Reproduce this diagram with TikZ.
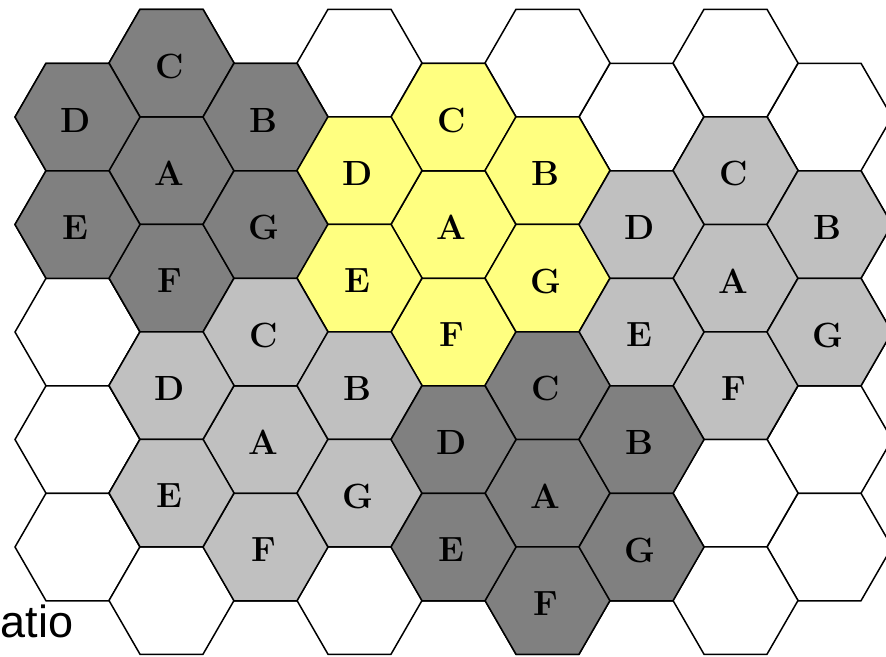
\documentclass[tikz,border=0pt]{standalone}
\usepackage{fontspec}
\newfontfamily\captionfont{Liberation Sans}
\definecolor{darkcell}{HTML}{808080}
\definecolor{lightcell}{HTML}{C0C0C0}
\definecolor{yellowcell}{HTML}{FFFF80}
\tikzset{
  hexline/.style={draw=black, line width=1.5pt, line join=miter},
  lbl/.style={font=\fontsize{35}{35}\selectfont\bfseries, inner sep=0pt},
}
\newcommand{\hexcell}[3]{%
  \draw[hexline, fill=#3] (#1-62.5,#2) -- (#1-31.5,#2-53.75) -- (#1+31.5,#2-53.75)
    -- (#1+62.5,#2) -- (#1+31.5,#2+53.75) -- (#1-31.5,#2+53.75) -- cycle;}
\newcommand{\labcell}[5]{%
  \hexcell{#1}{#2}{#3}
  \node[lbl] (#5) at (#1-2,#2+3) {#4};}
\begin{document}
\begin{tikzpicture}[x=1pt,y=-1pt]
\useasboundingbox (0,0) rectangle (886,656);
\fill[white] (0,0) rectangle (886,656);
\begin{scope}
\clip (0,0) rectangle (886,656);
% white background grid
\foreach \cx in {77.5,265.5,453.5,641.5,829.5}{
  \foreach \cy in {117,224.5,332,439.5,547}{\hexcell{\cx}{\cy}{white}}}
\foreach \cx in {171.5,359.5,547.5,735.5}{
  \foreach \cy in {63,170.5,278,385.5,493,600.5}{\hexcell{\cx}{\cy}{white}}}
% dark cluster (top left)
\labcell{171.5}{170.5}{darkcell}{A}{a1}
\labcell{171.5}{63}{darkcell}{C}{c1}
\labcell{171.5}{278}{darkcell}{F}{f1}
\labcell{77.5}{117}{darkcell}{D}{d1}
\labcell{77.5}{224.5}{darkcell}{E}{e1}
\labcell{265.5}{117}{darkcell}{B}{b1}
\labcell{265.5}{224.5}{darkcell}{G}{g1}
% yellow cluster
\labcell{453.5}{224.5}{yellowcell}{A}{a2}
\labcell{453.5}{117}{yellowcell}{C}{c2}
\labcell{453.5}{332}{yellowcell}{F}{f2}
\labcell{359.5}{170.5}{yellowcell}{D}{d2}
\labcell{359.5}{278}{yellowcell}{E}{e2}
\labcell{547.5}{170.5}{yellowcell}{B}{b2}
\labcell{547.5}{278}{yellowcell}{G}{g2}
% light cluster (right)
\labcell{735.5}{278}{lightcell}{A}{a3}
\labcell{735.5}{170.5}{lightcell}{C}{c3}
\labcell{735.5}{385.5}{lightcell}{F}{f3}
\labcell{641.5}{224.5}{lightcell}{D}{d3}
\labcell{641.5}{332}{lightcell}{E}{e3}
\labcell{829.5}{224.5}{lightcell}{B}{b3}
\labcell{829.5}{332}{lightcell}{G}{g3}
% light cluster (bottom left)
\labcell{265.5}{439.5}{lightcell}{A}{a4}
\labcell{265.5}{332}{lightcell}{C}{c4}
\labcell{265.5}{547}{lightcell}{F}{f4}
\labcell{171.5}{385.5}{lightcell}{D}{d4}
\labcell{171.5}{493}{lightcell}{E}{e4}
\labcell{359.5}{385.5}{lightcell}{B}{b4}
\labcell{359.5}{493}{lightcell}{G}{g4}
% dark cluster (bottom)
\labcell{547.5}{493}{darkcell}{A}{a5}
\labcell{547.5}{385.5}{darkcell}{C}{c5}
\labcell{547.5}{600.5}{darkcell}{F}{f5}
\labcell{453.5}{439.5}{darkcell}{D}{d5}
\labcell{453.5}{547}{darkcell}{E}{e5}
\labcell{641.5}{439.5}{darkcell}{B}{b5}
\labcell{641.5}{547}{darkcell}{G}{g5}
\end{scope}
% caption fragment
\node[anchor=base west, inner sep=0pt, font=\captionfont\fontsize{45}{45}\selectfont] (cap) at (0.5,637) {atio};
\end{tikzpicture}
\end{document}
